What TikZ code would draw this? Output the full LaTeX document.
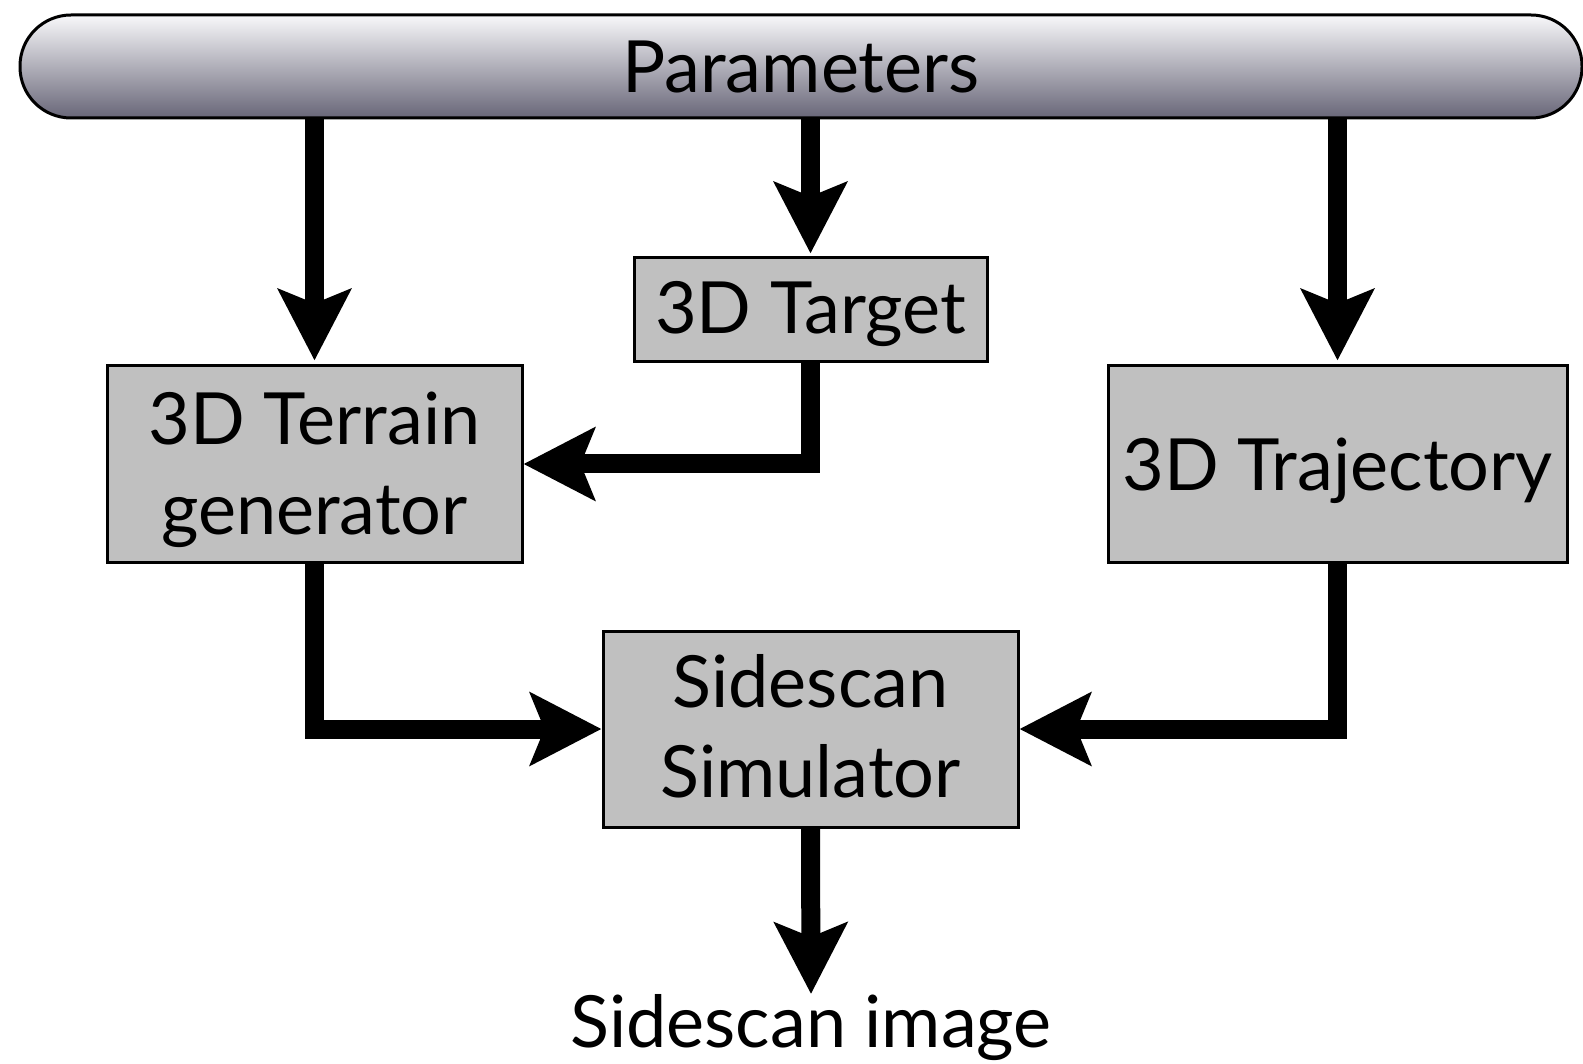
\documentclass[tikz,border=0pt]{standalone}
\usepackage{fontspec}
\setmainfont{Lato}
\usetikzlibrary{arrows.meta}
\definecolor{boxgray}{RGB}{192,192,192}
\definecolor{bartop}{RGB}{248,248,250}
\definecolor{barbot}{RGB}{104,102,120}
\newcommand\lowtext[2]{\raisebox{-#1}[\height][\depth]{\begin{tabular}{@{}c@{}}#2\end{tabular}}}
\begin{document}
\begin{tikzpicture}[x=1pt,y=-1pt,
  txt/.style={font=\fontsize{72}{90}\selectfont, align=center, inner sep=0pt},
  blk/.style={txt, draw=black, line width=3pt, fill=boxgray},
  arr/.style={line width=19pt, line join=miter, -{Stealth[length=71pt,width=72pt,inset=14pt]}}]
\useasboundingbox[fill=white] (0,0) rectangle (1583,1064);
\node[txt, draw=black, line width=3pt, rounded corners=51pt, top color=bartop, bottom color=barbot,
  minimum width=1562pt, minimum height=103pt] (params) at (801,66.5) {Parameters};
\node[blk, minimum width=353pt, minimum height=104pt] (target) at (810.5,310) {\lowtext{6pt}{3D Target}};
\node[blk, minimum width=415pt, minimum height=196pt] (terrain) at (314.5,464) {\lowtext{8pt}{3D Terrain\\generator}};
\node[blk, minimum width=459pt, minimum height=196pt] (traj) at (1337.5,464) {\lowtext{9pt}{3D Trajectory}};
\node[blk, minimum width=415pt, minimum height=196pt] (sim) at (810.5,729) {\lowtext{5pt}{Sidescan\\Simulator}};
\node[txt, anchor=north] (img) at (811,994) {Sidescan image};
\draw[arr, shorten >=4pt] (params.south -| terrain.north) -- (terrain.north);
\draw[arr, shorten >=3pt] (params.south -| target.north) -- (target.north);
\draw[arr, shorten >=4pt] (params.south -| traj.north) -- (traj.north);
\draw[arr] (target.south) |- (terrain.east);
\draw[arr] (terrain.south) |- (sim.west);
\draw[arr] (traj.south) |- (sim.east);
\draw[arr] (sim.south) -- (img.north);
\end{tikzpicture}
\end{document}
